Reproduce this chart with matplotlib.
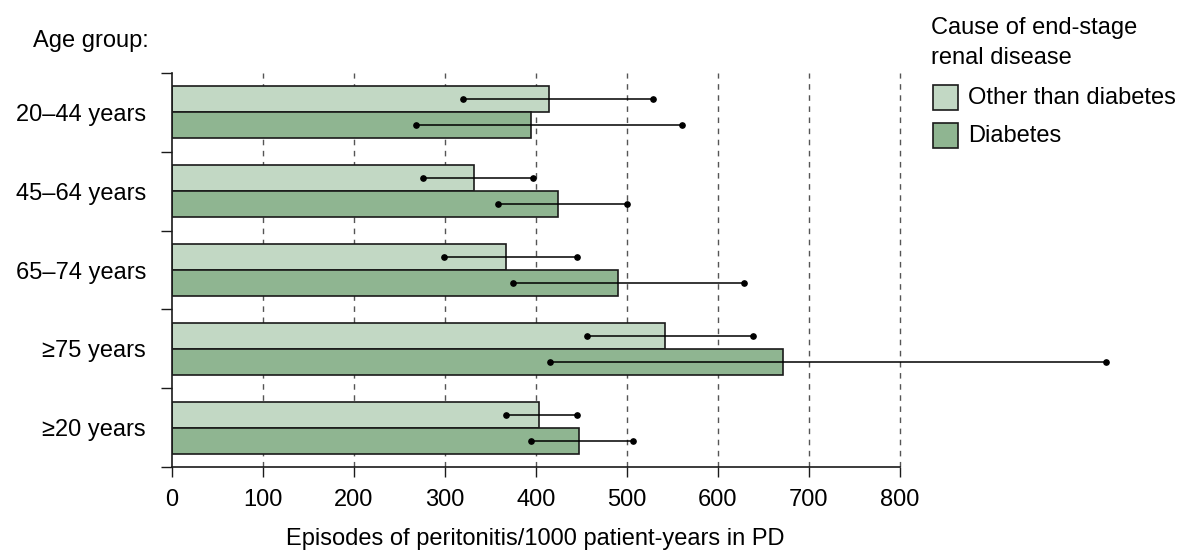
import matplotlib
matplotlib.use("Agg")
import matplotlib.pyplot as plt
from matplotlib.patches import Rectangle
import numpy as np

plt.rcParams['font.family'] = ['Liberation Sans', 'DejaVu Sans']

categories = ["20\u201344 years", "45\u201364 years", "65\u201374 years", "\u226575 years", "\u226520 years"]
other = [415, 332, 367, 542, 404]
diabetes = [395, 425, 490, 672, 448]
other_lo = [320, 276, 299, 456, 367]
other_hi = [529, 397, 445, 639, 445]
diab_lo = [269, 359, 375, 416, 395]
diab_hi = [561, 500, 629, 1027, 507]
xticks = [0, 100, 200, 300, 400, 500, 600, 700, 800]
legend_labels = ["Other than diabetes", "Diabetes"]

c_light = "#c2d8c4"
c_dark = "#8fb591"
edge = "#1a1a1a"

W, H = 1179, 551
fig = plt.figure(figsize=(W / 100, H / 100), dpi=100)
px_per_unit = 0.91
xmax = 1045
left_px, top_px, bot_px = 171.7, 73, 467
ax = fig.add_axes([left_px / W, (H - bot_px) / H, xmax * px_per_unit / W, (bot_px - top_px) / H])

y = np.arange(len(categories))
h = 0.331
ax.barh(y - h / 2, other, height=h, color=c_light, edgecolor=edge, linewidth=1.2, zorder=2)
ax.barh(y + h / 2, diabetes, height=h, color=c_dark, edgecolor=edge, linewidth=1.2, zorder=2)
for i in range(len(categories)):
    ax.plot([other_lo[i], other_hi[i]], [y[i] - h / 2] * 2, color="black", lw=1.1,
            marker="o", ms=3.8, zorder=4, clip_on=False)
    ax.plot([diab_lo[i], diab_hi[i]], [y[i] + h / 2] * 2, color="black", lw=1.1,
            marker="o", ms=3.8, zorder=4, clip_on=False)

ax.set_xlim(0, xmax)
ax.set_ylim(len(categories) - 0.5, -0.5)

ax.set_xticks(xticks)
ax.set_xticklabels([str(t) for t in xticks], fontsize=17)
ax.tick_params(axis="x", length=7, width=1, pad=9, color=edge)

ax.set_yticks(np.arange(-0.5, len(categories), 1.0))
ax.set_yticklabels([])
ax.set_yticks(y, minor=True)
ax.set_yticklabels(categories, minor=True, fontsize=17)
ax.tick_params(axis="y", which="major", length=8, width=1, color=edge)
ax.tick_params(axis="y", which="minor", length=0, pad=18.5)

for gx in xticks[1:]:
    ax.axvline(gx, color="#555555", lw=1.0, linestyle=(0, (4, 4)), zorder=1)

ax.spines["top"].set_visible(False)
ax.spines["right"].set_visible(False)
ax.spines["bottom"].set_bounds(0, 800)
for s in ("left", "bottom"):
    ax.spines[s].set_linewidth(1.2)
    ax.spines[s].set_color(edge)

fig.text(33 / W, (H - 47) / H, "Age group:", fontsize=17, ha="left", va="baseline")
fig.text((left_px + 400 * px_per_unit) / W, (H - 545) / H,
         "Episodes of peritonitis/1000 patient-years in PD",
         fontsize=17, ha="center", va="baseline")

# legend
fig.text(931 / W, (H - 34) / H, "Cause of end-stage", fontsize=17, ha="left", va="baseline")
fig.text(931 / W, (H - 64) / H, "renal disease", fontsize=17, ha="left", va="baseline")
for lbl, col, (y0, y1) in zip(legend_labels, [c_light, c_dark], [(85, 110), (123, 148)]):
    fig.add_artist(Rectangle((933 / W, (H - y1) / H), 25 / W, (y1 - y0) / H,
                             transform=fig.transFigure, facecolor=col, edgecolor=edge, lw=1.2))
    fig.text(968 / W, (H - (y0 + y1) / 2) / H, lbl, fontsize=17, ha="left", va="center")

fig.savefig("out.png", dpi=100)
